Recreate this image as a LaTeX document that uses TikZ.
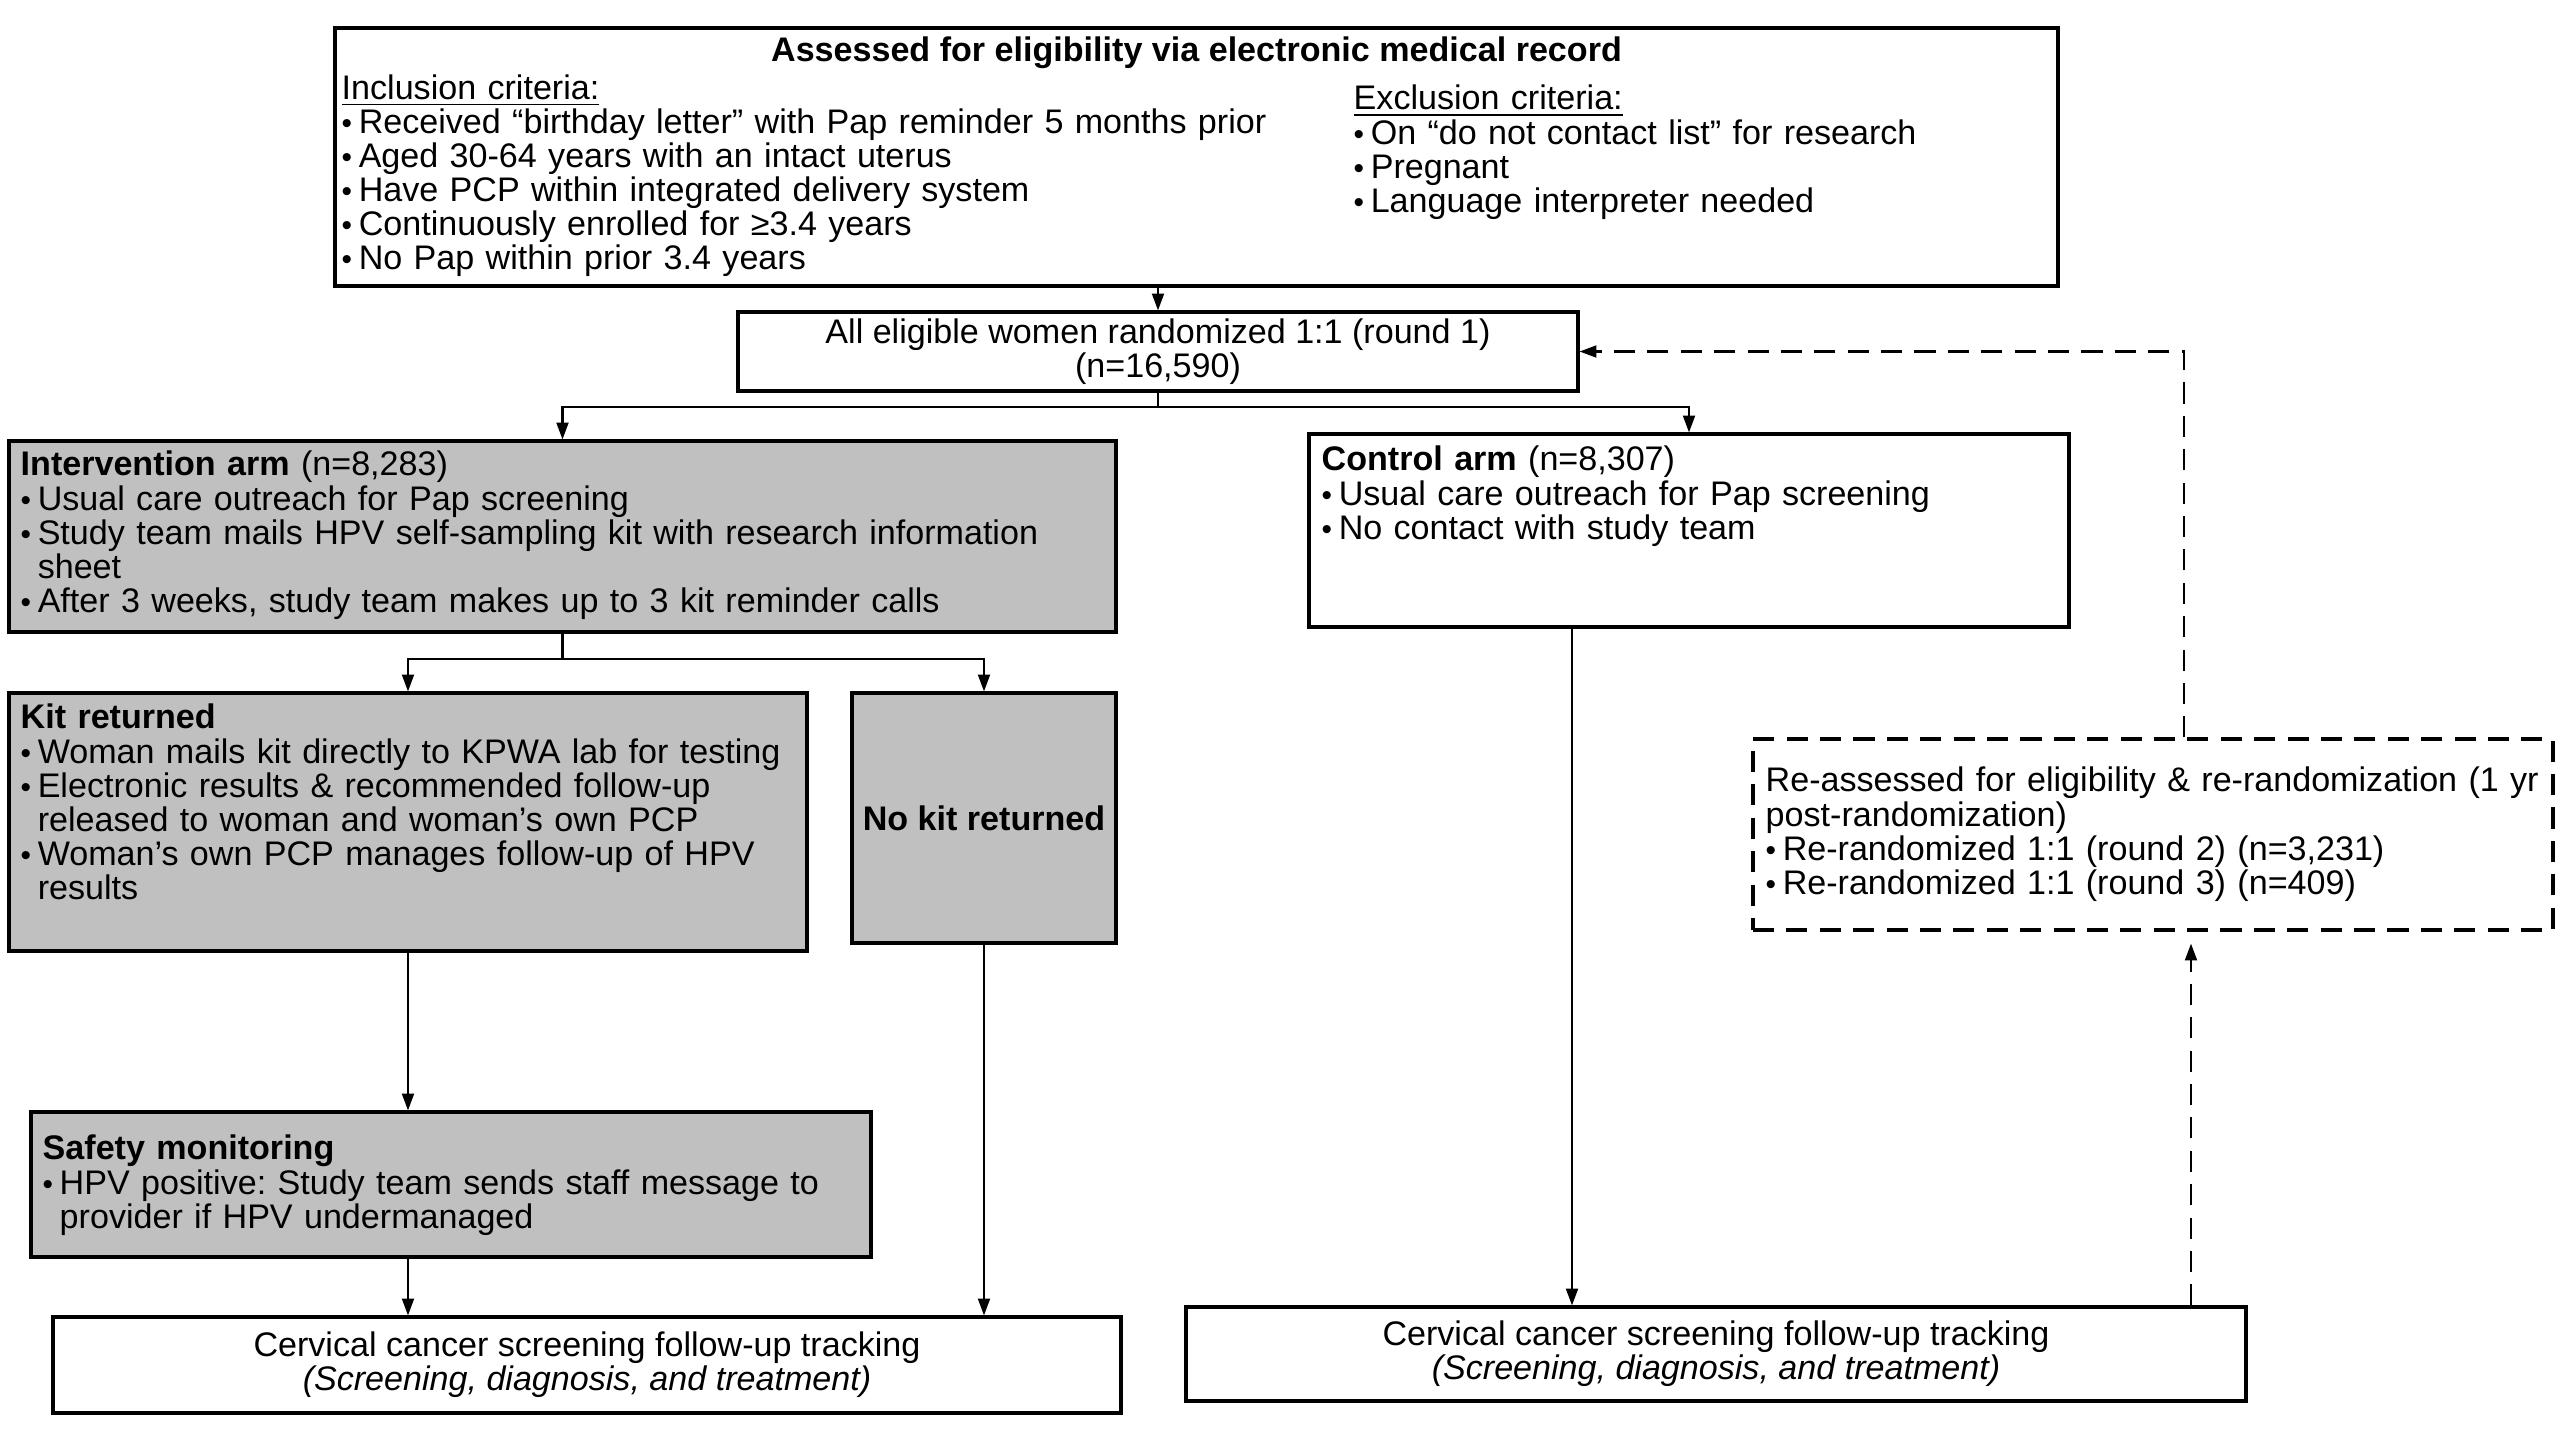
\documentclass[tikz,border=0pt]{standalone}
\usepackage{fontspec}
\setmainfont{Liberation Sans}
\usetikzlibrary{arrows.meta}
\definecolor{boxgray}{RGB}{192,192,192}
\setlength{\parindent}{0pt}
\frenchspacing
\newcommand{\bl}[1]{\par\hangindent=0.5em\hangafter=1\makebox[0.5em][l]{\fontsize{8.5}{8.5}\selectfont\textbullet}#1\par}

\begin{document}
\begin{tikzpicture}[
    font=\fontsize{9.7}{9.7}\selectfont,
    box/.style={draw=black, line width=0.9pt, inner sep=0pt},
    graybox/.style={box, fill=boxgray},
    txtcol/.style={anchor=north west, inner sep=0pt, align=left, text width=#1},
    txtcol/.default=10cm,
    arr/.style={-{Triangle[length=4.8pt,width=3.4pt]}, line width=0.6pt},
    darr/.style={arr, dash pattern=on 6pt off 3.5pt}
  ]
    \useasboundingbox (0,0) rectangle (25.6,-14.4);

    \node[box, minimum width=17.23cm, minimum height=2.58cm] (elig) at (11.965,-1.57) {};
    \node[inner sep=0pt] (eligT) at (11.965,-0.53) {\textbf{Assessed for eligibility via electronic medical record}};
    \node[txtcol=10cm] (incl) at (3.41,-0.74) {\underline{Inclusion criteria:}
      \bl{Received “birthday letter” with Pap reminder 5 months prior}
      \bl{Aged 30-64 years with an intact uterus}
      \bl{Have PCP within integrated delivery system}
      \bl{Continuously enrolled for ≥3.4 years}
      \bl{No Pap within prior 3.4 years}};
    \node[txtcol=7cm] (excl) at (13.53,-0.845) {\underline{Exclusion criteria:}
      \bl{On “do not contact list” for research}
      \bl{Pregnant}
      \bl{Language interpreter needed}};

    \node[box, minimum width=8.40cm, minimum height=0.79cm, align=center] (random) at (11.58,-3.515)
      {All eligible women randomized 1:1 (round 1)\\(n=16,590)};

    \node[graybox, minimum width=11.07cm, minimum height=1.91cm] (inter) at (5.625,-5.365) {};
    \node[txtcol=10.8cm] (interT) at (0.20,-4.505) {\textbf{Intervention arm} (n=8,283)
      \bl{Usual care outreach for Pap screening}
      \bl{Study team mails HPV self-sampling kit with research information\newline sheet}
      \bl{After 3 weeks, study team makes up to 3 kit reminder calls}};

    \node[box, minimum width=7.60cm, minimum height=1.93cm] (control) at (16.89,-5.305) {};
    \node[txtcol=7.3cm] (controlT) at (13.21,-4.455) {\textbf{Control arm} (n=8,307)
      \bl{Usual care outreach for Pap screening}
      \bl{No contact with study team}};

    \node[graybox, minimum width=7.98cm, minimum height=2.58cm] (kit) at (4.08,-8.22) {};
    \node[txtcol=8.5cm] (kitT) at (0.20,-7.035) {\textbf{Kit returned}
      \bl{Woman mails kit directly to KPWA lab for testing}
      \bl{Electronic results \& recommended follow-up\newline released to woman and woman’s own PCP}
      \bl{Woman’s own PCP manages follow-up of HPV\newline results}};

    \node[graybox, minimum width=2.64cm, minimum height=2.50cm] (nokit) at (9.84,-8.18) {\textbf{No kit returned}};

    \node[graybox, minimum width=8.40cm, minimum height=1.45cm] (safety) at (4.51,-11.845) {};
    \node[txtcol=8.5cm] (safetyT) at (0.42,-11.345) {\textbf{Safety monitoring}
      \bl{HPV positive: Study team sends staff message to\newline provider if HPV undermanaged}};

    \node[box, minimum width=10.68cm, minimum height=0.96cm, align=center] (track1) at (5.87,-13.65)
      {Cervical cancer screening follow-up tracking\\\textit{(Screening, diagnosis, and treatment)}};
    \node[box, minimum width=10.60cm, minimum height=0.94cm, align=center] (track2) at (17.16,-13.54)
      {Cervical cancer screening follow-up tracking\\\textit{(Screening, diagnosis, and treatment)}};

    \node[box, dash pattern=on 6pt off 3.5pt, minimum width=8.00cm, minimum height=1.91cm] (reassess) at (21.53,-8.345) {};
    \node[txtcol=8cm] (reassessT) at (17.65,-7.665) {Re-assessed for eligibility \& re-randomization (1 yr\newline post-randomization)
      \bl{Re-randomized 1:1 (round 2) (n=3,231)}
      \bl{Re-randomized 1:1 (round 3) (n=409)}};

    \coordinate (split1) at (11.58,-4.07);
    \coordinate (split2) at (5.625,-6.59);
    \coordinate (cdrop) at (15.72,0);
    \coordinate (rdrop) at (21.91,0);
    \coordinate (rup) at (21.84,0);

    \draw[arr] (elig.south -| random.north) -- (random.north);
    \draw[line width=0.6pt] (random.south) -- (split1);
    \draw[arr] (split1) -| (inter.north);
    \draw[arr] (split1) -| (control.north);
    \draw[line width=0.6pt] (inter.south) -- (split2);
    \draw[arr] (split2) -| (kit.north);
    \draw[arr] (split2) -| (nokit.north);
    \draw[arr] (kit.south) -- (kit.south |- safety.north);
    \draw[arr] (kit.south |- safety.south) -- (kit.south |- track1.north);
    \draw[arr] (nokit.south) -- (nokit.south |- track1.north);
    \draw[arr] (control.south -| cdrop) -- (track2.north -| cdrop);
    \draw[darr, shorten >=0.12cm] (track2.north -| rdrop) -- (reassess.south -| rdrop);
    \draw[darr] (reassess.north -| rup) |- (random.east);
\end{tikzpicture}
\end{document}
